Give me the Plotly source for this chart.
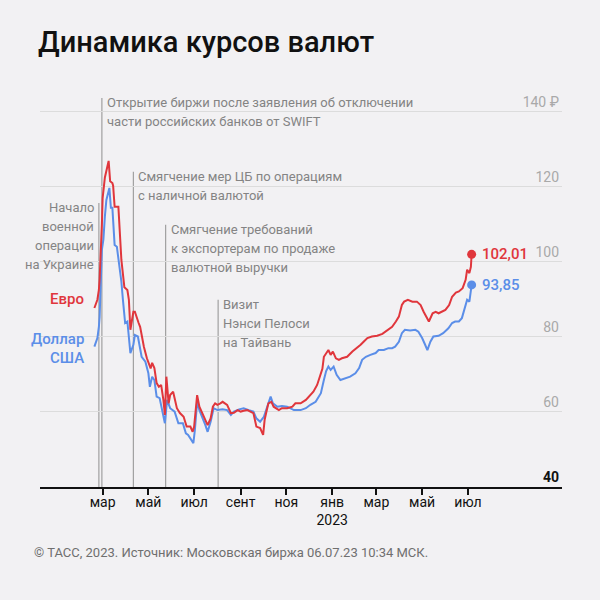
import plotly.graph_objects as go

# ---------------- data ----------------
eur_dates = ["2022-02-18","2022-02-22","2022-02-24","2022-02-25","2022-02-28","2022-03-01","2022-03-04","2022-03-09",
             "2022-03-11","2022-03-14","2022-03-15","2022-03-17","2022-03-22","2022-03-24","2022-03-26","2022-03-30",
             "2022-04-03","2022-04-05","2022-04-07","2022-04-11","2022-04-13","2022-04-18","2022-04-20","2022-04-25",
             "2022-04-29","2022-05-04","2022-05-06","2022-05-09","2022-05-12","2022-05-15","2022-05-18","2022-05-21",
             "2022-05-23","2022-05-25","2022-05-28","2022-05-30","2022-06-03","2022-06-08","2022-06-12","2022-06-17",
             "2022-06-21","2022-06-26","2022-06-29","2022-07-01","2022-07-05","2022-07-08","2022-07-12","2022-07-16",
             "2022-07-19","2022-07-23","2022-07-26","2022-07-29","2022-08-01","2022-08-05","2022-08-08","2022-08-11",
             "2022-08-14","2022-08-19","2022-08-23","2022-08-28","2022-09-01","2022-09-05","2022-09-10","2022-09-14",
             "2022-09-18","2022-09-22","2022-09-27","2022-10-01","2022-10-03","2022-10-05","2022-10-08","2022-10-12",
             "2022-10-15","2022-10-22","2022-10-26","2022-11-02","2022-11-09","2022-11-13","2022-11-20","2022-11-27",
             "2022-12-03","2022-12-07","2022-12-12","2022-12-16","2022-12-19","2022-12-21","2022-12-24","2022-12-27",
             "2022-12-30","2023-01-02","2023-01-06","2023-01-10","2023-01-14","2023-01-21","2023-01-28","2023-02-03",
             "2023-02-08","2023-02-12","2023-02-17","2023-02-23","2023-03-02","2023-03-09","2023-03-13","2023-03-18",
             "2023-03-22","2023-03-27","2023-03-31","2023-04-04","2023-04-07","2023-04-12","2023-04-18","2023-04-24",
             "2023-04-29","2023-05-03","2023-05-07","2023-05-10","2023-05-15","2023-05-19","2023-05-23","2023-05-28",
             "2023-06-01","2023-06-06","2023-06-10","2023-06-15","2023-06-19","2023-06-24","2023-06-28","2023-06-30",
             "2023-07-03","2023-07-05","2023-07-06"]
eur_values = [87.7,89.9,92.5,95.5,110.0,117.0,122.5,126.9,
              121.5,121.0,120.3,114.7,114.7,106.7,100.5,93.2,
              92.5,89.9,81.9,86.7,86.7,83.7,82.7,77.4,
              74.3,71.6,73.1,71.7,67.7,66.7,67.2,63.2,
              59.2,69.4,62.3,64.5,65.4,61.0,59.7,58.7,
              56.1,56.1,54.7,56.1,64.5,61.4,59.7,57.9,
              56.5,58.3,61.4,62.3,61.9,62.3,62.7,62.3,
              61.9,59.7,59.8,60.5,60.1,60.3,60.5,60.1,
              59.7,56.1,55.7,53.9,57.9,59.7,62.3,62.7,
              61.4,60.5,61.0,61.0,61.4,62.3,62.3,63.2,
              64.5,65.4,67.2,69.4,71.5,74.7,75.7,76.5,
              75.2,76.1,74.3,73.9,74.3,74.7,76.1,77.0,
              77.9,78.7,79.7,80.1,80.3,80.8,81.4,82.3,
              82.7,84.1,85.4,88.5,89.4,89.9,89.4,89.4,
              88.5,86.7,85.0,84.1,86.3,86.7,86.3,86.7,
              87.2,88.5,90.7,91.8,92.1,93.0,95.2,97.9,
              97.0,98.7,102.01]

usd_dates = ["2022-02-18","2022-02-22","2022-02-24","2022-02-25","2022-02-28","2022-03-02","2022-03-04","2022-03-06",
             "2022-03-10","2022-03-12","2022-03-14","2022-03-17","2022-03-20","2022-03-24","2022-03-26","2022-03-28",
             "2022-03-30","2022-03-31","2022-04-03","2022-04-07","2022-04-11","2022-04-13","2022-04-17","2022-04-20",
             "2022-04-22","2022-04-27","2022-05-01","2022-05-03","2022-05-06","2022-05-09","2022-05-12","2022-05-16",
             "2022-05-19","2022-05-23","2022-05-26","2022-05-30","2022-06-05","2022-06-10","2022-06-16","2022-06-20",
             "2022-06-23","2022-06-27","2022-06-30","2022-07-02","2022-07-05","2022-07-08","2022-07-12","2022-07-16",
             "2022-07-19","2022-07-23","2022-07-27","2022-08-01","2022-08-08","2022-08-14","2022-08-19","2022-08-23",
             "2022-08-30","2022-09-05","2022-09-12","2022-09-18","2022-09-22","2022-09-27","2022-10-02","2022-10-05",
             "2022-10-08","2022-10-11","2022-10-14","2022-10-20","2022-10-26","2022-11-02","2022-11-11","2022-11-20",
             "2022-11-27","2022-12-03","2022-12-10","2022-12-17","2022-12-21","2022-12-24","2022-12-27","2022-12-30",
             "2023-01-03","2023-01-07","2023-01-12","2023-01-18","2023-01-25","2023-02-01","2023-02-06","2023-02-10",
             "2023-02-15","2023-02-21","2023-02-28","2023-03-04","2023-03-11","2023-03-17","2023-03-22","2023-03-26",
             "2023-03-31","2023-04-04","2023-04-08","2023-04-15","2023-04-22","2023-04-26","2023-05-01","2023-05-05",
             "2023-05-08","2023-05-12","2023-05-16","2023-05-23","2023-05-29","2023-06-05","2023-06-10","2023-06-14",
             "2023-06-19","2023-06-23","2023-06-28","2023-06-30","2023-07-03","2023-07-05","2023-07-06"]
usd_values = [77.4,79.7,82.7,85.4,103.2,105.9,112.1,116.5,
              119.7,114.4,114.4,104.5,104.0,97.9,94.7,90.0,
              84.5,83.7,84.1,75.7,77.9,80.5,80.1,77.4,
              74.7,73.4,70.3,66.7,69.4,68.5,64.1,63.7,
              61.0,57.0,63.2,61.0,60.1,57.0,57.0,54.3,
              53.9,52.5,51.7,55.2,62.7,60.5,58.7,56.5,
              54.7,57.4,61.0,60.5,60.7,60.5,59.2,60.1,
              60.7,61.0,60.5,60.1,58.3,57.4,58.7,60.5,
              62.7,64.1,62.3,61.4,61.6,61.4,60.5,60.5,
              61.0,61.9,62.7,65.0,68.5,70.9,72.1,71.2,
              72.1,69.9,68.5,69.0,69.4,70.3,71.7,73.9,
              74.7,75.2,75.7,76.5,76.5,77.0,77.0,77.4,
              78.7,81.0,81.9,81.7,81.9,81.4,79.7,77.9,
              76.5,78.7,80.1,80.3,81.0,82.3,83.7,84.1,
              84.1,85.0,89.0,89.9,89.4,91.7,93.85]

eur_end_label = "102,01"
usd_end_label = "93,85"

y_tick_values = [40, 60, 80, 100, 120, 140]
y_tick_labels = ["<span style='color:#111111'><b>40</b></span>", "60", "80", "100", "120", "140 ₽"]

x_tick_values = ["2022-03-01", "2022-05-01", "2022-07-01", "2022-09-01", "2022-11-01",
                 "2023-01-01", "2023-03-01", "2023-05-01", "2023-07-01"]
x_tick_labels = ["мар", "май", "июл", "сент", "ноя", "янв<br>2023", "мар", "май", "июл"]

event_dates = ["2022-02-24", "2022-02-28", "2022-04-11", "2022-05-24", "2022-08-02"]
event_tops = [115.7, 143.7, 124.0, 109.9, 89.9]
event_texts = [
    ["Начало", "военной", "операции", "на Украине"],
    ["Открытие биржи после заявления об отключении", "части российских банков от SWIFT"],
    ["Смягчение мер ЦБ по операциям", "с наличной валютой"],
    ["Смягчение требований", "к экспортерам по продаже", "валютной выручки"],
    ["Визит", "Нэнси Пелоси", "на Тайвань"],
]
event_sides = ["left", "right", "right", "right", "right"]

title_text = "Динамика курсов валют"
source_text = "© ТАСС, 2023. Источник: Московская биржа 06.07.23 10:34 МСК."

# ---------------- styles ----------------
RED = "#e0363c"
BLUE = "#5b8ee8"
BG = "#f2f1f3"
GRAY_TXT = "#848484"
FONT = "Roboto"

fig = go.Figure()

fig.add_trace(go.Scatter(x=usd_dates, y=usd_values, mode="lines",
                         line=dict(color=BLUE, width=2), hoverinfo="skip", showlegend=False))
fig.add_trace(go.Scatter(x=eur_dates, y=eur_values, mode="lines",
                         line=dict(color=RED, width=2), hoverinfo="skip", showlegend=False))
# end dots
fig.add_trace(go.Scatter(x=[usd_dates[-1]], y=[usd_values[-1]], mode="markers",
                         marker=dict(color=BLUE, size=9), hoverinfo="skip", showlegend=False))
fig.add_trace(go.Scatter(x=[eur_dates[-1]], y=[eur_values[-1]], mode="markers",
                         marker=dict(color=RED, size=9), hoverinfo="skip", showlegend=False))

# event lines
for d, top in zip(event_dates, event_tops):
    fig.add_shape(type="line", x0=d, x1=d, y0=40, y1=top, xref="x", yref="y",
                  line=dict(color="#a0a0a0", width=1.2), layer="below")

# event texts
LINE_H = 19
for d, top, lines, side in zip(event_dates, event_tops, event_texts, event_sides):
    for i, t in enumerate(lines):
        fig.add_annotation(x=d, y=top, text=t, showarrow=False,
                           xanchor="right" if side == "left" else "left", yanchor="middle",
                           xshift=-3 if side == "left" else 3, yshift=-5 - LINE_H * i,
                           font=dict(family=FONT, size=13, color=GRAY_TXT, weight=400))

# series labels at start
fig.add_annotation(x=eur_dates[0], y=eur_values[0], text="Евро", showarrow=False,
                   xanchor="right", yanchor="middle", xshift=-8, yshift=9,
                   font=dict(family=FONT, size=15, color=RED, weight=500))
fig.add_annotation(x=usd_dates[0], y=usd_values[0], text="Доллар", showarrow=False,
                   xanchor="right", yanchor="middle", xshift=-8, yshift=8,
                   font=dict(family=FONT, size=15, color=BLUE, weight=500))
fig.add_annotation(x=usd_dates[0], y=usd_values[0], text="США", showarrow=False,
                   xanchor="right", yanchor="middle", xshift=-8, yshift=-11,
                   font=dict(family=FONT, size=15, color=BLUE, weight=500))

# end labels
fig.add_annotation(x=eur_dates[-1], y=eur_values[-1], text=eur_end_label, showarrow=False,
                   xanchor="left", yanchor="middle", xshift=8,
                   font=dict(family=FONT, size=15, color=RED, weight=500))
fig.add_annotation(x=usd_dates[-1], y=usd_values[-1], text=usd_end_label, showarrow=False,
                   xanchor="left", yanchor="middle", xshift=8,
                   font=dict(family=FONT, size=15, color=BLUE, weight=500))

# title & source
fig.add_annotation(x=0, y=1, xref="paper", yref="paper", text=title_text, showarrow=False,
                   xanchor="left", yanchor="middle", xshift=-4, yshift=51,
                   font=dict(family=FONT, size=29, color="#111111", weight=500))
fig.add_annotation(x=0, y=0, xref="paper", yref="paper", text=source_text, showarrow=False,
                   xanchor="left", yanchor="middle", xshift=-8, yshift=-65,
                   font=dict(family=FONT, size=13, color="#6f6f6f", weight=400))

fig.update_layout(
    width=600, height=600,
    margin=dict(l=40, r=38, t=93, b=113),
    paper_bgcolor=BG, plot_bgcolor=BG,
    showlegend=False,
    font=dict(family=FONT),
    xaxis=dict(
        type="date",
        range=["2021-12-07 12:00", "2023-11-03 12:00"],
        tickvals=x_tick_values, ticktext=x_tick_labels,
        ticks="outside", ticklen=6, tickwidth=1.5, tickcolor="#111111",
        ticklabelstandoff=-5,
        showline=True, linecolor="#111111", linewidth=2,
        showgrid=False, zeroline=False,
        tickfont=dict(family=FONT, size=14, color="#111111", weight=400),
        fixedrange=True,
    ),
    yaxis=dict(
        range=[40, 145],
        tickvals=y_tick_values, ticktext=y_tick_labels,
        side="right", ticklabelposition="inside top",
        ticks="", showline=False, zeroline=False,
        showgrid=True, gridcolor="#dcdcdc", gridwidth=1,
        tickfont=dict(family=FONT, size=14, color="#a9a9a9"),
        fixedrange=True,
    ),
)

fig.write_html("out.html")
